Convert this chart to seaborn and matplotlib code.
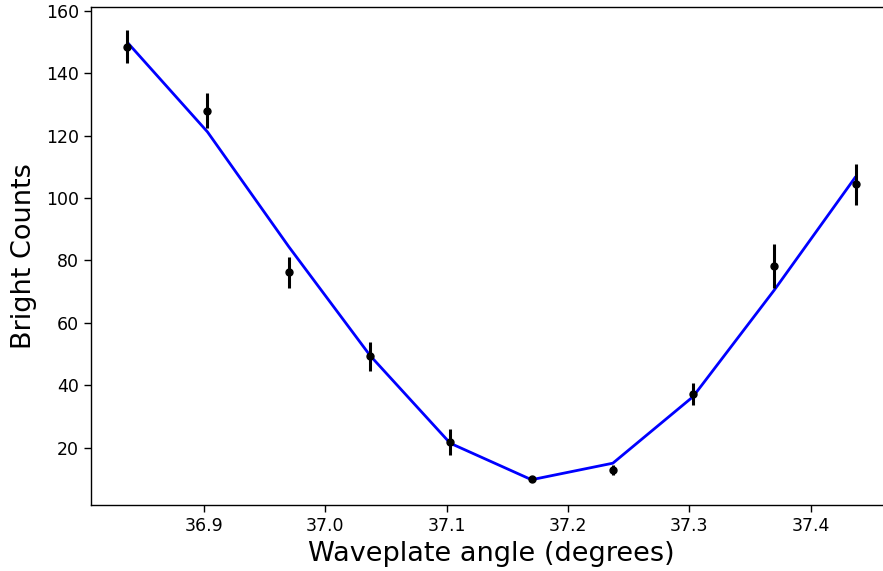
import matplotlib
matplotlib.use("Agg")
import matplotlib.pyplot as plt
import seaborn as sns
import pandas as pd

angles = [36.837, 36.903, 36.970, 37.037, 37.103, 37.170, 37.237, 37.303, 37.370, 37.437]
counts = [148.5, 128.0, 76.2, 49.3, 21.9, 9.85, 12.85, 37.1, 78.3, 104.4]
errors = [5.3, 5.6, 5.0, 4.6, 4.2, 0.6, 1.7, 3.5, 7.0, 6.6]
fit = [149.9, 121.2, 84.4, 49.5, 21.4, 9.7, 15.0, 36.3, 70.5, 106.8]

sns.set_style("ticks")
plt.rcParams['font.family'] = ['DejaVu Sans']
plt.rcParams['text.color'] = 'black'
plt.rcParams['axes.labelcolor'] = 'black'
plt.rcParams['xtick.color'] = 'black'
plt.rcParams['ytick.color'] = 'black'

df = pd.DataFrame({"angle": angles, "counts": counts, "err": errors, "fit": fit})

fig, ax = plt.subplots(figsize=(8.83, 5.71), dpi=100)
fig.subplots_adjust(left=0.103, right=1.0102, top=0.987, bottom=0.1156)

sns.lineplot(data=df, x="angle", y="fit", color="#0000ff", linewidth=2, ax=ax)
ax.errorbar(df["angle"], df["counts"], yerr=df["err"], fmt="o", color="black",
            markersize=5, elinewidth=2.2, capsize=0)

ax.set_xlim(36.807, 37.467)
ax.set_ylim(1.6, 161.1)
ax.set_xlabel("Waveplate angle (degrees)", fontsize=19.5, labelpad=4)
ax.set_ylabel("Bright Counts", fontsize=19.5, labelpad=6)
ax.set_xticks([36.9, 37.0, 37.1, 37.2, 37.3, 37.4])
ax.set_yticks([20, 40, 60, 80, 100, 120, 140, 160])
ax.tick_params(axis="both", labelsize=12.5, direction="out", length=4.7, width=1, pad=4)
for s in ax.spines.values():
    s.set_color("black")
    s.set_linewidth(1)

fig.savefig("out.png", dpi=100)
